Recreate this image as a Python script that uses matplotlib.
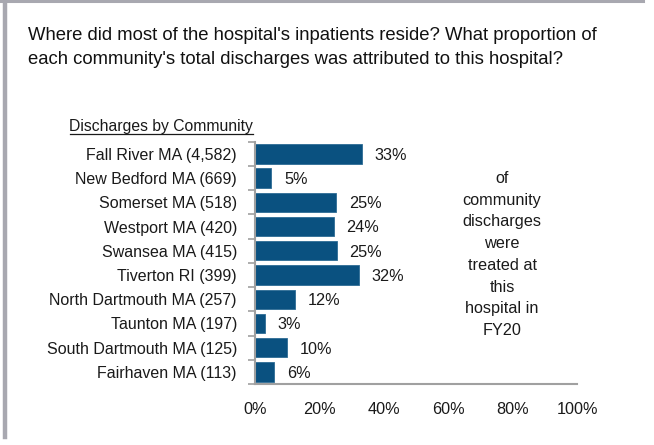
import matplotlib
matplotlib.use("Agg")
import matplotlib.pyplot as plt
from matplotlib.lines import Line2D

plt.rcParams['font.family'] = ['Liberation Sans', 'DejaVu Sans']

communities = ["Fall River MA (4,582)", "New Bedford MA (669)", "Somerset MA (518)",
               "Westport MA (420)", "Swansea MA (415)", "Tiverton RI (399)",
               "North Dartmouth MA (257)", "Taunton MA (197)",
               "South Dartmouth MA (125)", "Fairhaven MA (113)"]
share = [33.2, 5.1, 25.3, 24.5, 25.5, 32.2, 12.4, 3.0, 9.9, 6.0]
share_labels = ["33%", "5%", "25%", "24%", "25%", "32%", "12%", "3%", "10%", "6%"]
xticks = [0, 20, 40, 60, 80, 100]
xtick_labels = ["0%", "20%", "40%", "60%", "80%", "100%"]

W, H = 654, 445
fig = plt.figure(figsize=(W / 100, H / 100), dpi=100)

def fx(px):
    return px / W

def fy(py):
    return 1 - py / H

ax = fig.add_axes([fx(255), fy(384), fx(577) - fx(255), fy(141.7) - fy(384)])
ypos = list(range(len(communities)))
ax.barh(ypos, share, height=0.8, color="#0a5180", edgecolor="#2d6c94", linewidth=0.6)
ax.set_ylim(len(communities) - 0.5, -0.5)
ax.set_xlim(0, 100)

for y, v, lab in zip(ypos, share, share_labels):
    ax.annotate(lab, (v, y), xytext=(9, -1), textcoords="offset points",
                va="center", ha="left", fontsize=11.7, color="#1a1a1a")

ax.set_yticks(ypos)
ax.set_yticklabels(communities, fontsize=11.5, color="#1a1a1a")
ax.tick_params(axis="y", which="major", length=0, pad=13)
ax.set_yticks([i - 0.5 for i in range(len(communities) + 1)], minor=True)
ax.tick_params(axis="y", which="minor", length=5, width=1.2, color="#a0a0a0")

ax.set_xticks(xticks)
ax.set_xticklabels(xtick_labels, fontsize=11.7, color="#1a1a1a")
ax.tick_params(axis="x", length=0, pad=13)

for s in ["top", "right"]:
    ax.spines[s].set_visible(False)
for s in ["left", "bottom"]:
    ax.spines[s].set_color("#a0a0a0")
    ax.spines[s].set_linewidth(1.5)

# Title
fig.text(fx(28), fy(26.5), "Where did most of the hospital's inpatients reside? What proportion of\n"
         "each community's total discharges was attributed to this hospital?",
         ha="left", va="top", fontsize=13.3, color="#111111", linespacing=1.55)

# Header, underlined
fig.text(fx(253), fy(131), "Discharges by Community", ha="right", va="baseline",
         fontsize=11.3, color="#1a1a1a")
fig.add_artist(Line2D([fx(70), fx(253)], [fy(133.5), fy(133.5)], color="#1a1a1a", lw=0.9))

# Side annotation
fig.text(fx(502), fy(254.5), "of\ncommunity\ndischarges\nwere\ntreated at\nthis\nhospital in\nFY20",
         ha="center", va="center", fontsize=11.7, color="#1a1a1a", linespacing=1.56)

# Frame lines
fig.add_artist(Line2D([fx(0), fx(643)], [fy(1), fy(1)], color="#a8a8b0", lw=2.2))
fig.add_artist(Line2D([fx(5), fx(5)], [fy(0), fy(437)], color="#a8a8b0", lw=3.2))

fig.savefig("out.png", dpi=100)
